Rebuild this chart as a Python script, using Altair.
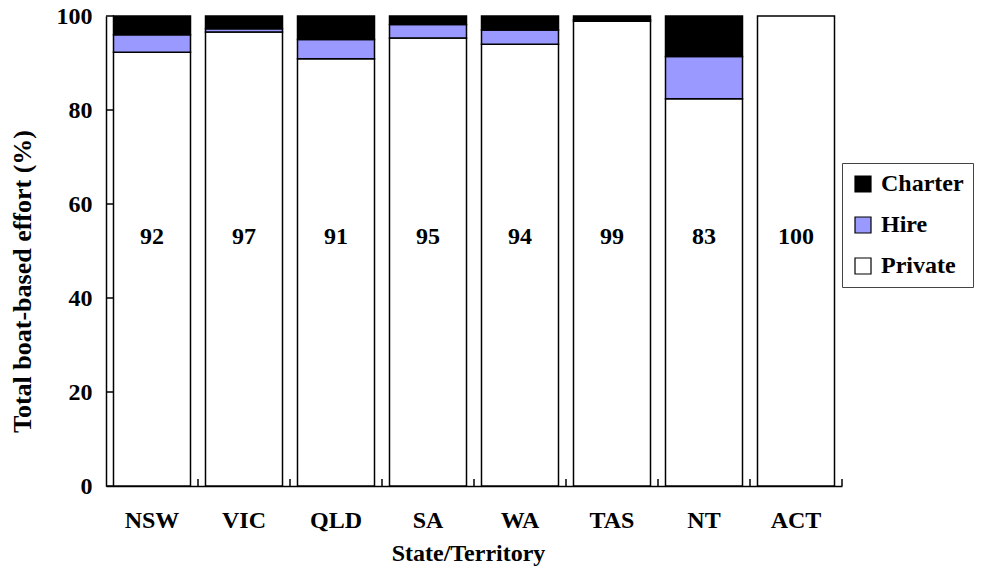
import altair as alt
import pandas as pd

categories = ["NSW", "VIC", "QLD", "SA", "WA", "TAS", "NT", "ACT"]
private = [92.3, 96.6, 90.9, 95.3, 94.0, 98.9, 82.4, 100.0]
hire = [3.7, 0.7, 4.1, 2.9, 3.0, 0.3, 9.0, 0.0]
charter = [4.0, 2.7, 5.0, 1.8, 3.0, 0.8, 8.6, 0.0]
labels = ["92", "97", "91", "95", "94", "99", "83", "100"]
series = ["Charter", "Hire", "Private"]
colors = ["#000000", "#9999FF", "#FFFFFF"]
y_ticks = [0, 20, 40, 60, 80, 100]

rows = []
for i, c in enumerate(categories):
    for s, vals, o in (("Private", private, 0), ("Hire", hire, 1), ("Charter", charter, 2)):
        if vals[i] > 0:
            rows.append({"state": c, "type": s, "value": vals[i], "ord": o})
df = pd.DataFrame(rows)
lab_df = pd.DataFrame({"state": categories, "label": labels})
tick_df = pd.DataFrame({"t": y_ticks})
xt_df = pd.DataFrame({"state": categories[1:]})
xend_df = pd.DataFrame({"state": categories[-1:]})

FONT = "Liberation Serif"
W, H = 736, 470

xscale = alt.Scale(domain=categories, paddingInner=0, paddingOuter=0)
yscale = alt.Scale(domain=[0, 100], nice=False)

xenc = alt.X("state:N", scale=xscale, sort=categories,
             axis=alt.Axis(title="State/Territory", labelAngle=0, tickSize=0,
                           labelPadding=22, titlePadding=9, domainColor="black",
                           domainWidth=1.5, labelFont=FONT, labelFontSize=24,
                           labelFontWeight="bold", labelColor="black",
                           titleFont=FONT, titleFontSize=24, titleFontWeight="bold",
                           titleColor="black", titleX=362))

bars = alt.Chart(df).mark_bar(width=alt.RelativeBandSize(0.837), stroke="black",
                              strokeWidth=1.5).encode(
    x=xenc,
    y=alt.Y("value:Q", stack="zero", scale=yscale,
            axis=alt.Axis(title="Total boat-based effort (%)", values=y_ticks,
                          tickSize=0, labelPadding=14, domainColor="black",
                          domainWidth=1.5, grid=False, labelFont=FONT,
                          labelFontSize=24, labelFontWeight="bold",
                          labelColor="black", titleFont=FONT, titleFontSize=26,
                          titleFontWeight="bold", titleColor="black",
                          titleX=-84, titleY=265, titleAngle=270,
                          titleAlign="center", titleBaseline="middle")),
    color=alt.Color("type:N", scale=alt.Scale(domain=series, range=colors),
                    legend=alt.Legend(title=None, orient="none", legendX=736,
                                      legendY=147, symbolType="square",
                                      symbolSize=256, symbolStrokeColor="black",
                                      symbolStrokeWidth=1.2, labelFont=FONT,
                                      labelFontSize=24, labelFontWeight="bold",
                                      labelColor="black", labelLimit=300,
                                      rowPadding=17, padding=9, strokeColor="#444",
                                      labelOffset=6)),
    order=alt.Order("ord:Q"),
)

text = alt.Chart(lab_df).mark_text(font=FONT, fontSize=24, fontWeight="bold",
                                   color="black", baseline="middle").encode(
    x=alt.X("state:N", scale=xscale, sort=categories),
    y=alt.datum(53),
    text="label:N",
)

yticks = alt.Chart(tick_df).mark_rule(color="black", strokeWidth=1.5).encode(
    y=alt.Y("t:Q", scale=yscale),
    x=alt.value(0), x2=alt.value(8),
)

xticks = alt.Chart(xt_df).mark_rule(color="black", strokeWidth=1.5).encode(
    x=alt.X("state:N", scale=xscale, sort=categories, bandPosition=0),
    y=alt.value(H), y2=alt.value(H - 7),
)
xend = alt.Chart(xend_df).mark_rule(color="black", strokeWidth=1.5).encode(
    x=alt.X("state:N", scale=xscale, sort=categories, bandPosition=1),
    y=alt.value(H), y2=alt.value(H - 7),
)

chart = alt.layer(bars, text, yticks, xticks, xend).properties(
    width=W, height=H,
    autosize=alt.AutoSizeParams(type="none"),
    padding={"left": 98, "top": 8, "right": 132, "bottom": 82},
    background="white",
).configure_view(stroke=None)

chart.save("out.html", embed_options={"renderer": "svg", "actions": False})
